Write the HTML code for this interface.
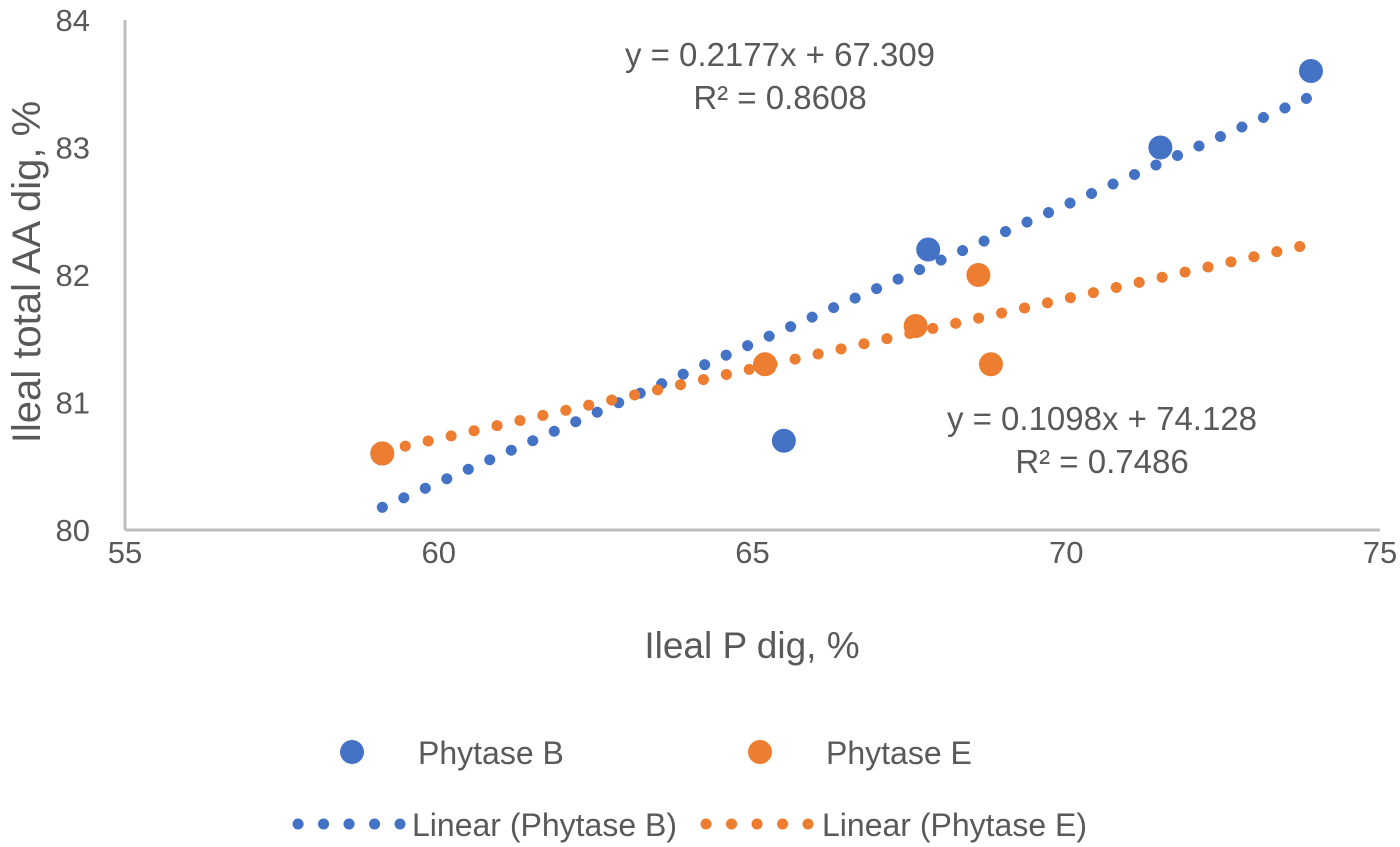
<!DOCTYPE html>
<html><head><meta charset="utf-8"><style>
html,body{margin:0;padding:0;background:#fff;}
svg{display:block;font-family:"Liberation Sans",sans-serif;}
</style></head><body>
<svg id="chart" width="1400" height="847" viewBox="0 0 1400 847"></svg>
<script>
const xTicks=[55,60,65,70,75];
const yTicks=[80,81,82,83,84];
const bX=[59.1,65.5,67.8,71.5,73.9];
const bY=[80.6,80.7,82.2,83.0,83.6];
const eX=[59.1,65.2,67.6,68.6,68.8];
const eY=[80.6,81.3,81.6,82.0,81.3];
const eForward=[5.0];
const bColor='#4472c4', eColor='#ed7d31', txt='#595959';
const L=125,R=1380,T=20,B=530;
const sx=v=>L+(v-55)/(75-55)*(R-L);
const sy=v=>B-(v-80)/(84-80)*(B-T);
const svg=document.getElementById('chart');
const NS='http://www.w3.org/2000/svg';
function mk(tag,attrs,text){const e=document.createElementNS(NS,tag);for(const k in attrs)e.setAttribute(k,attrs[k]);if(text!==undefined)e.textContent=text;svg.appendChild(e);return e;}
let e=mk('line',{x1:L,y1:T,x2:L,y2:B,stroke:'#bfbfbf','stroke-width':3});

e=mk('line',{x1:L,y1:B,x2:R,y2:B,stroke:'#bfbfbf','stroke-width':3});

xTicks.forEach(t=>{const el=mk('text',{x:sx(t),y:563,'text-anchor':'middle','font-size':31,fill:txt},String(t));
});
yTicks.forEach(t=>{const el=mk('text',{x:90,y:sy(t)+11,'text-anchor':'end','font-size':31,fill:txt},String(t));
});
e=mk('text',{x:752,y:658,'text-anchor':'middle','font-size':37,fill:txt},'Ileal P dig, %');

e=mk('text',{x:0,y:0,'text-anchor':'middle','font-size':40,fill:txt,transform:'translate(40,272) rotate(-90)'},'Ileal total AA dig, %');

function fit(xs,ys){const n=xs.length;const mx=xs.reduce((a,b)=>a+b)/n,my=ys.reduce((a,b)=>a+b)/n;let sxy=0,sxx=0,syy=0;for(let i=0;i<n;i++){sxy+=(xs[i]-mx)*(ys[i]-my);sxx+=(xs[i]-mx)**2;syy+=(ys[i]-my)**2;}const m=sxy/sxx;return{m,b:my-m*mx,r2:sxy*sxy/(sxx*syy)};}
function trend(xs,ys,fwd,col,name){const f=fit(xs,ys);const x0=Math.min(...xs),x1=Math.max(...xs)+fwd;
const p0=[sx(x0),sy(f.m*x0+f.b)],p1=[sx(x1),sy(f.m*x1+f.b)];
const el=mk('line',{x1:p0[0],y1:p0[1],x2:p1[0],y2:p1[1],stroke:col,'stroke-width':11,'stroke-linecap':'round','stroke-dasharray':'0.1 23.4'});
return f;}
const fB=trend(bX,bY,0,bColor,'trendline-phytase-b');
const fE=trend(eX,eY,eForward[0],eColor,'trendline-phytase-e');
bX.forEach((x,i)=>{const el=mk('circle',{cx:sx(x),cy:sy(bY[i]),r:12,fill:bColor});
});
eX.forEach((x,i)=>{const el=mk('circle',{cx:sx(x),cy:sy(eY[i]),r:12,fill:eColor});
});
function eq(f,cx,y,name){
const t1=mk('text',{x:cx,y:y,'text-anchor':'middle','font-size':33,fill:txt},'y = '+f.m.toFixed(4)+'x + '+f.b.toFixed(3));

const t2=mk('text',{x:cx,y:y+43,'text-anchor':'middle','font-size':33,fill:txt},'R² = '+f.r2.toFixed(4));
}
eq(fB,780,66,'phytase-b');
eq(fE,1102,430,'phytase-e');
e=mk('circle',{cx:352,cy:752,r:12,fill:bColor});
e=mk('text',{x:418,y:764,'font-size':32,fill:txt},'Phytase B');
e=mk('circle',{cx:760,cy:752,r:12,fill:eColor});
e=mk('text',{x:826,y:764,'font-size':32,fill:txt},'Phytase E');
e=mk('line',{x1:298,y1:824,x2:400,y2:824,stroke:bColor,'stroke-width':11,'stroke-linecap':'round','stroke-dasharray':'0.1 25.4'});
e=mk('text',{x:412,y:836,'font-size':32,fill:txt},'Linear (Phytase B)');
e=mk('line',{x1:706,y1:824,x2:808,y2:824,stroke:eColor,'stroke-width':11,'stroke-linecap':'round','stroke-dasharray':'0.1 25.4'});
e=mk('text',{x:822,y:836,'font-size':32,fill:txt},'Linear (Phytase E)');
</script>
</body></html>
